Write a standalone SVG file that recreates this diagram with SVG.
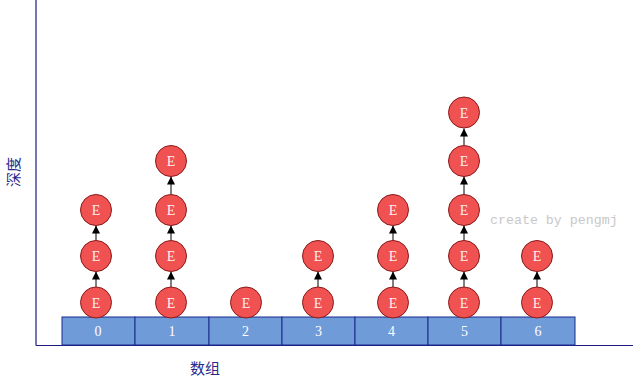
<svg xmlns="http://www.w3.org/2000/svg" width="633" height="379" viewBox="0 0 633 379">
<style>
.cell{fill:#6f9bd9;stroke:#1c2a8c;stroke-width:1}
.ct{font-family:"Liberation Serif",serif;font-size:14px;fill:#ffffff;text-anchor:middle}
.nd{fill:#f05252;stroke:#8a1a1a;stroke-width:1}
.nt{font-family:"Liberation Serif",serif;font-size:14px;fill:#fff0f0;text-anchor:middle}
.ax{stroke:#1c1c80;stroke-width:1.2;fill:none}
.lb{font-family:"Noto Sans CJK SC","Liberation Sans",sans-serif;font-size:15px;fill:#2a2a8a}
.ar{stroke:#000;stroke-width:1;marker-end:url(#ah)}
</style>
<defs>
<marker id="ah" viewBox="0 0 10 10" refX="10" refY="5" markerWidth="8" markerHeight="8" markerUnits="userSpaceOnUse" orient="auto"><path d="M0,0 L10,5 L0,10 z" fill="#000"/></marker>
</defs>
<g id="axes">
<line class="ax" x1="36" y1="0" x2="36" y2="345.5"/>
<line class="ax" x1="36" y1="345.5" x2="633" y2="345.5"/>
</g>
<g id="array">
<rect class="cell" x="62" y="317" width="73" height="28"/>
<rect class="cell" x="135" y="317" width="74" height="28"/>
<rect class="cell" x="209" y="317" width="73" height="28"/>
<rect class="cell" x="282" y="317" width="73" height="28"/>
<rect class="cell" x="355" y="317" width="73" height="28"/>
<rect class="cell" x="428" y="317" width="73" height="28"/>
<rect class="cell" x="501" y="317" width="74" height="28"/>
<text class="ct" x="98" y="336">0</text>
<text class="ct" x="172" y="336">1</text>
<text class="ct" x="245.5" y="336">2</text>
<text class="ct" x="318.5" y="336">3</text>
<text class="ct" x="391.5" y="336">4</text>
<text class="ct" x="464.5" y="336">5</text>
<text class="ct" x="538" y="336">6</text>
</g>
<g id="connectors">
<line class="ar" x1="96" y1="287" x2="96" y2="271.5"/>
<line class="ar" x1="96" y1="240.5" x2="96" y2="225.5"/>
<line class="ar" x1="171" y1="287" x2="171" y2="271.5"/>
<line class="ar" x1="171" y1="240.5" x2="171" y2="225.5"/>
<line class="ar" x1="171" y1="194.5" x2="171" y2="176.5"/>
<line class="ar" x1="318" y1="287" x2="318" y2="271.5"/>
<line class="ar" x1="393" y1="287" x2="393" y2="271.5"/>
<line class="ar" x1="393" y1="240.5" x2="393" y2="225.5"/>
<line class="ar" x1="464" y1="287" x2="464" y2="271.5"/>
<line class="ar" x1="464" y1="240.5" x2="464" y2="225.5"/>
<line class="ar" x1="464" y1="194.5" x2="464" y2="176.5"/>
<line class="ar" x1="464" y1="145.5" x2="464" y2="128.5"/>
<line class="ar" x1="537" y1="287" x2="537" y2="271.5"/>
</g>
<g id="col0">
<circle class="nd" cx="96" cy="302.5" r="15.5"/><text class="nt" x="96" y="307.5">E</text>
<circle class="nd" cx="96" cy="256" r="15.5"/><text class="nt" x="96" y="261">E</text>
<circle class="nd" cx="96" cy="210" r="15.5"/><text class="nt" x="96" y="215">E</text>
</g>
<g id="col1">
<circle class="nd" cx="171" cy="302.5" r="15.5"/><text class="nt" x="171" y="307.5">E</text>
<circle class="nd" cx="171" cy="256" r="15.5"/><text class="nt" x="171" y="261">E</text>
<circle class="nd" cx="171" cy="210" r="15.5"/><text class="nt" x="171" y="215">E</text>
<circle class="nd" cx="171" cy="161" r="15.5"/><text class="nt" x="171" y="166">E</text>
</g>
<g id="col2">
<circle class="nd" cx="246" cy="302.5" r="15.5"/><text class="nt" x="246" y="307.5">E</text>
</g>
<g id="col3">
<circle class="nd" cx="318" cy="302.5" r="15.5"/><text class="nt" x="318" y="307.5">E</text>
<circle class="nd" cx="318" cy="256" r="15.5"/><text class="nt" x="318" y="261">E</text>
</g>
<g id="col4">
<circle class="nd" cx="393" cy="302.5" r="15.5"/><text class="nt" x="393" y="307.5">E</text>
<circle class="nd" cx="393" cy="256" r="15.5"/><text class="nt" x="393" y="261">E</text>
<circle class="nd" cx="393" cy="210" r="15.5"/><text class="nt" x="393" y="215">E</text>
</g>
<g id="col5">
<circle class="nd" cx="464" cy="302.5" r="15.5"/><text class="nt" x="464" y="307.5">E</text>
<circle class="nd" cx="464" cy="256" r="15.5"/><text class="nt" x="464" y="261">E</text>
<circle class="nd" cx="464" cy="210" r="15.5"/><text class="nt" x="464" y="215">E</text>
<circle class="nd" cx="464" cy="161" r="15.5"/><text class="nt" x="464" y="166">E</text>
<circle class="nd" cx="464" cy="112.5" r="15.5"/><text class="nt" x="464" y="117.5">E</text>
</g>
<g id="col6">
<circle class="nd" cx="537" cy="302.5" r="15.5"/><text class="nt" x="537" y="307.5">E</text>
<circle class="nd" cx="537" cy="256" r="15.5"/><text class="nt" x="537" y="261">E</text>
</g>
<g id="labels">
<text class="lb" transform="translate(19,172) rotate(-90)" text-anchor="middle">深度</text>
<text class="lb" x="205" y="374" text-anchor="middle">数组</text>
<text x="490" y="224" font-family="'Liberation Mono',monospace" font-size="13.3" fill="#c8c8c8">create by pengmj</text>
</g>
</svg>
